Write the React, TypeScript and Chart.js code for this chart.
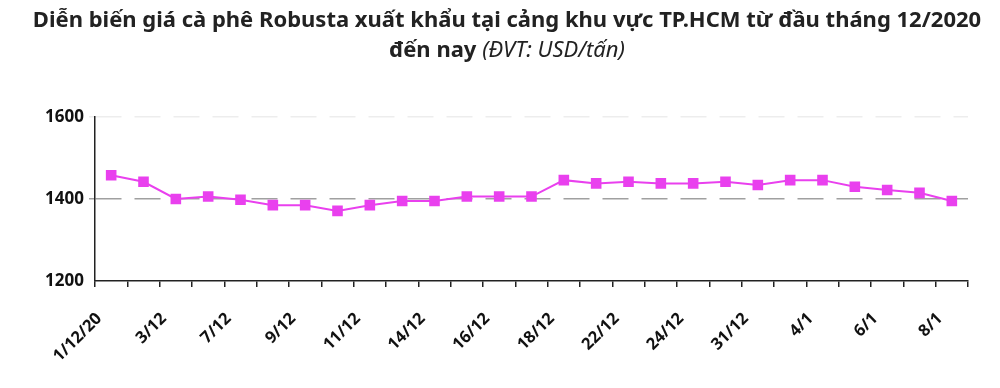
import React, { useEffect, useRef } from "react";
import { Chart, registerables } from "chart.js";

Chart.register(...registerables);

const categories = [
  "1/12/20", "2/12", "3/12", "4/12", "7/12", "8/12", "9/12", "10/12", "11/12", "12/12",
  "14/12", "15/12", "16/12", "17/12", "18/12", "21/12", "22/12", "23/12", "24/12", "25/12",
  "31/12", "2/1", "4/1", "5/1", "6/1", "7/1", "8/1",
];
const tickLabels = [
  "1/12/20", "", "3/12", "", "7/12", "", "9/12", "", "11/12", "", "14/12", "", "16/12", "",
  "18/12", "", "22/12", "", "24/12", "", "31/12", "", "4/1", "", "6/1", "", "8/1",
];
const prices = [
  1458, 1442, 1400, 1406, 1398, 1385, 1385, 1371, 1385, 1395,
  1395, 1406, 1406, 1406, 1446, 1438, 1442, 1438, 1438, 1442,
  1434, 1446, 1446, 1430, 1422, 1415, 1395,
];
const yTicks = [1200, 1400, 1600];

const titleLine1 = "Diễn biến giá cà phê Robusta xuất khẩu tại cảng khu vực TP.HCM từ đầu tháng 12/2020";
const titleLine2Bold = "đến nay ";
const titleLine2Italic = "(ĐVT: USD/tấn)";

export default function App() {
  const ref = useRef<HTMLCanvasElement>(null);
  useEffect(() => {
    if (!ref.current) return;
    const chart = new Chart(ref.current, {
      type: "line",
      data: {
        labels: categories,
        datasets: [
          {
            data: prices,
            borderColor: "#E940EE",
            backgroundColor: "#E940EE",
            borderWidth: 2,
            pointStyle: "rect",
            pointRadius: 7.5,
            pointBorderWidth: 0,
            tension: 0,
          },
        ],
      },
      options: {
        animation: false,
        responsive: false,
        layout: { padding: { top: 117, right: 32, left: 0, bottom: 0 } },
        plugins: { legend: { display: false }, tooltip: { enabled: false }, title: { display: false } },
        scales: {
          x: {
            offset: true,
            grid: { offset: true, drawOnChartArea: false, drawTicks: true, tickLength: 6, color: "#222", lineWidth: 1.5 },
            border: { color: "#222", width: 1.5 },
            ticks: {
              autoSkip: false,
              maxRotation: 45,
              minRotation: 45,
              padding: 22,
              labelOffset: -12,
              color: "#111",
              font: { family: "Open Sans", weight: "bold", size: 16.5 },
              callback: (_v: any, i: number) => tickLabels[i],
            },
            afterFit: (s: any) => { s.height = 107; },
          },
          y: {
            min: 1200,
            max: 1600,
            afterBuildTicks: (s: any) => { s.ticks = yTicks.map((v) => ({ value: v })); },
            grid: {
              drawTicks: true,
              tickLength: 6,
              color: (c: any) => (c.tick && c.tick.value === 1400 ? "#A0A0A0" : c.tick && c.tick.value === 1600 ? "#EDEDED" : "rgba(0,0,0,0)"),
              lineWidth: 1.5,
            },
            border: { color: "#222", width: 1.5, dash: [26, 13] },
            ticks: {
              padding: 5,
              color: "#111",
              font: { family: "Open Sans", weight: "bold", size: 17 },
              callback: (v: any) => String(v),
            },
            afterFit: (s: any) => { s.width = 95; },
          },
        },
      },
    });
    return () => chart.destroy();
  }, []);
  return (
    <div style={{ position: "fixed", left: 0, top: 0, width: 1000, height: 388, background: "#fff" }}>
      <canvas ref={ref} width={1000} height={388} style={{ position: "absolute", left: 0, top: 0 }} />
      <div
        style={{
          position: "absolute",
          left: 0,
          top: 3,
          width: 1014,
          textAlign: "center",
          fontFamily: "'Noto Sans', sans-serif",
          fontSize: 22,
          lineHeight: "30px",
          color: "#222",
          fontWeight: "bold",
        }}
      >
        <div>{titleLine1}</div>
        <div>
          {titleLine2Bold}
          <span style={{ fontStyle: "italic", fontWeight: "normal" }}>{titleLine2Italic}</span>
        </div>
      </div>
    </div>
  );
}
